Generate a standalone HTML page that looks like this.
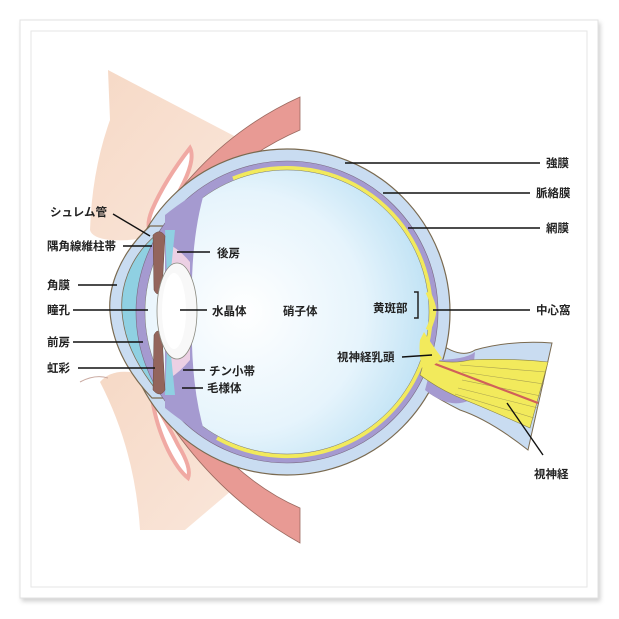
<!DOCTYPE html>
<html><head><meta charset="utf-8"><style>
html,body{margin:0;padding:0;background:#fff}
svg{display:block}
text{font-family:"Liberation Sans","Noto Sans CJK JP",sans-serif;font-size:11.5px;font-weight:bold;fill:#222}
</style></head><body>
<svg width="619" height="619" viewBox="0 0 619 619" xmlns="http://www.w3.org/2000/svg">
<defs>
<radialGradient id="vit" cx="0.35" cy="0.5" r="0.7"><stop offset="0" stop-color="#ffffff"/><stop offset="0.6" stop-color="#e6f4fc"/><stop offset="1" stop-color="#b9dff3"/></radialGradient>
<linearGradient id="lid" x1="0" y1="0" x2="1" y2="1"><stop offset="0" stop-color="#f6d9c6"/><stop offset="1" stop-color="#fae6da"/></linearGradient>
<filter id="sh" x="-5%" y="-5%" width="110%" height="110%"><feDropShadow dx="2" dy="3" stdDeviation="2" flood-color="#000" flood-opacity="0.18"/></filter>
</defs>
<rect x="20" y="20" width="578" height="578" fill="#fff" stroke="#e2e2e2" filter="url(#sh)"/>
<rect x="31" y="31" width="556" height="556" fill="#fff" stroke="#e6e6e6"/>

<!-- eyelids -->
<path d="M108,70 L238,138 L165,232 Q140,242 110,240 Q92,238 90,230 Q92,170 110,120 Z" fill="url(#lid)"/>
<path d="M190,148 Q196,160 180,190 Q165,215 152,232 Q145,228 152,210 Q165,180 190,148 Z" fill="#fff" stroke="#f0a9a3" stroke-width="4"/>
<path d="M100,382 Q110,370 130,372 L160,398 L238,485 L185,530 L140,530 Q135,450 100,382 Z" fill="url(#lid)"/>
<path d="M152,398 Q168,425 178,445 Q192,468 188,478 Q178,470 168,450 Q156,425 152,398 Z" fill="#fff" stroke="#f0a9a3" stroke-width="4"/>
<path d="M80,382 Q95,374 108,378" fill="none" stroke="#c9a9a0" stroke-width="1"/>
<!-- muscles -->
<path d="M300,97 L300,130 Q230,160 170,232 L148,236 Q205,140 300,97 Z" fill="#e89a94" stroke="#9b6a60" stroke-width="0.8"/>
<path d="M300,543 L300,508 Q230,478 170,390 L148,388 Q205,490 300,543 Z" fill="#e89a94" stroke="#9b6a60" stroke-width="0.8"/>

<!-- optic nerve sheath -->
<path d="M435,340 Q460,360 475,350 Q510,340 552,343 L528,450 Q490,420 460,410 Q440,400 425,390 Z" fill="#c9dcf1" stroke="#7a6a50" stroke-width="1"/>
<!-- sclera -->
<circle cx="287" cy="312" r="163" fill="#c9dcf1" stroke="#7a6a50" stroke-width="1.2"/>
<!-- cornea -->
<path d="M150,226 C118,255 108,290 110,312 C112,340 125,370 152,398 L175,398 L175,226 Z" fill="#c9dcf1" stroke="#7a6a50" stroke-width="1.2"/>
<path d="M157,234 C128,258 120,290 122,312 C124,338 134,362 157,391 L172,391 L172,234 Z" fill="#8fd0e2" stroke="#7a6a50" stroke-width="0.8"/>
<!-- choroid -->
<circle cx="287" cy="312" r="151" fill="#a59ad0" stroke="#7a6a80" stroke-width="0.6"/>
<path d="M433,360 Q465,360 475,352 L470,400 Q450,410 425,390 Z" fill="#a59ad0"/>
<!-- optic nerve yellow -->
<path d="M425,358 Q450,365 470,360 Q510,358 548,362 L530,428 Q490,410 465,400 Q440,390 420,375 Z" fill="#f2ea5c" stroke="#8a8040" stroke-width="0.6"/>
<g stroke="#a8a050" stroke-width="0.6" fill="none">
<path d="M460,365 L546,372"/><path d="M462,372 L544,384"/><path d="M462,380 L541,396"/><path d="M458,388 L538,408"/><path d="M455,394 L534,418"/>
</g>
<path d="M430,362 L538,403" stroke="#d0605a" stroke-width="2.2" fill="none"/>
<!-- retina -->
<path d="M233,178.5 A144,144 0 1 1 217,438" fill="none" stroke="#f2ea5c" stroke-width="4"/>
<!-- vitreous -->
<circle cx="287" cy="312" r="142" fill="url(#vit)" stroke="#7a7a70" stroke-width="0.5"/>
<path d="M428,292 Q433,303 434,310 Q433,320 428,330" fill="none" stroke="#f2ea5c" stroke-width="5"/>
<path d="M424,332 Q432,345 442,358 L424,374 Q418,355 420,340 Z" fill="#f2ea5c"/>
<!-- ciliary body / front -->
<path d="M165,215 Q190,195 205,190 Q190,240 192,312 Q190,385 205,434 Q190,428 165,408 Z" fill="#a59ad0"/>
<path d="M170,245 Q180,250 190,262 L190,360 Q180,372 170,378 Z" fill="#ecd0e4"/>
<path d="M165,230 L175,230 L168,300 Z M165,395 L175,395 L168,325 Z" fill="#8fd0e2"/>
<!-- iris -->
<path d="M153,235 Q160,228 165,236 L162,290 Q158,298 154,290 Z" fill="#93655c" stroke="#6a4a40" stroke-width="0.5"/>
<path d="M154,335 Q158,327 162,335 L165,390 Q160,398 153,390 Z" fill="#93655c" stroke="#6a4a40" stroke-width="0.5"/>
<!-- lens -->
<ellipse cx="177" cy="311" rx="20" ry="48" fill="#f8f8f8" stroke="#8a8a80" stroke-width="0.8"/>
<ellipse cx="174" cy="311" rx="12" ry="38" fill="#fff"/>
<!-- macula bracket -->
<path d="M414,292 L418,292 L418,318 L414,318" fill="none" stroke="#222" stroke-width="1.5"/>

<!-- leader lines -->
<g stroke="#111" stroke-width="1.4">
<line x1="345" y1="163" x2="540" y2="163"/>
<line x1="383" y1="193" x2="530" y2="193"/>
<line x1="408" y1="228" x2="540" y2="228"/>
<line x1="433" y1="310" x2="530" y2="310"/>
<line x1="402" y1="357" x2="432" y2="355"/>
<line x1="507" y1="403" x2="543" y2="455"/>
<line x1="180" y1="310" x2="207" y2="310"/>
<line x1="177" y1="252" x2="210" y2="252"/>
<line x1="183" y1="370" x2="205" y2="370"/>
<line x1="182" y1="388" x2="203" y2="388"/>
<line x1="113" y1="214" x2="150" y2="236"/>
<line x1="123" y1="246" x2="152" y2="246"/>
<line x1="78" y1="285" x2="117" y2="285"/>
<line x1="73" y1="310" x2="148" y2="310"/>
<line x1="73" y1="342" x2="143" y2="342"/>
<line x1="78" y1="368" x2="155" y2="368"/>
</g>
<text x="546" y="167">強膜</text>
<text x="536" y="197">脈絡膜</text>
<text x="546" y="232">網膜</text>
<text x="536" y="314">中心窩</text>
<text x="373" y="312">黄斑部</text>
<text x="337" y="361">視神経乳頭</text>
<text x="534" y="478">視神経</text>
<text x="283" y="315">硝子体</text>
<text x="212" y="315">水晶体</text>
<text x="217" y="257">後房</text>
<text x="209" y="375">チン小帯</text>
<text x="207" y="392">毛様体</text>
<text x="50" y="216">シュレム管</text>
<text x="47" y="250">隅角線維柱帯</text>
<text x="47" y="289">角膜</text>
<text x="47" y="314">瞳孔</text>
<text x="47" y="346">前房</text>
<text x="47" y="372">虹彩</text>
</svg>
</body></html>
